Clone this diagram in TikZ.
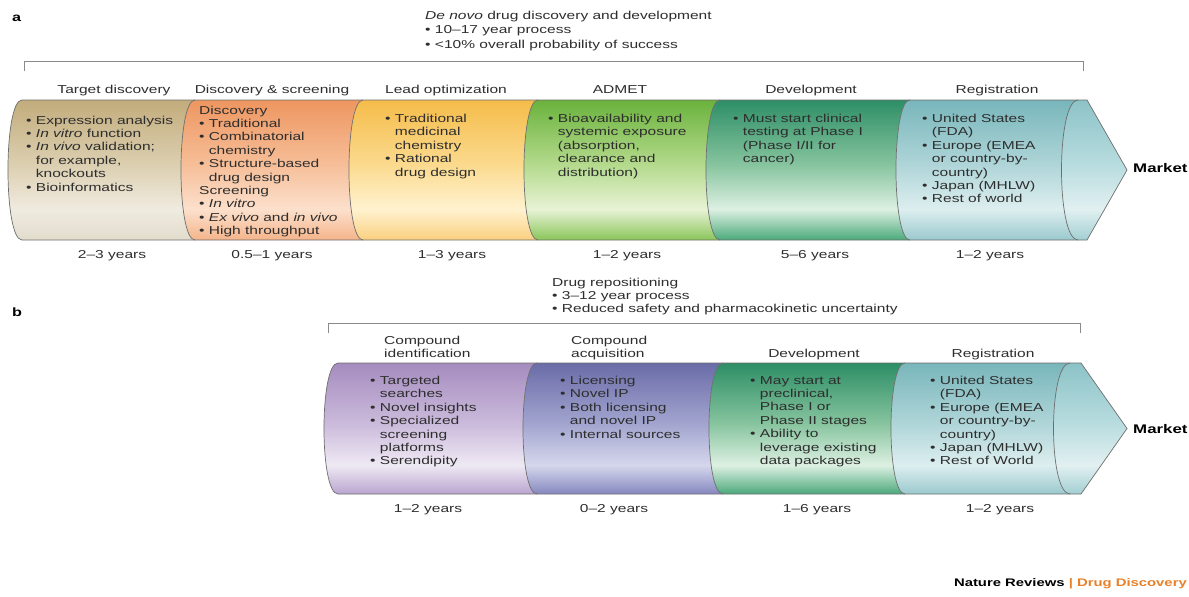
\documentclass[tikz,border=0pt]{standalone}
\usepackage{fontspec}
\setmainfont{Liberation Sans}[FakeStretch=1.35]
\usetikzlibrary{calc}

% text and line colours
\definecolor{ink}{HTML}{2E2E2E}
\definecolor{rim}{HTML}{6E6E6E}
\definecolor{brk}{HTML}{8A8A8A}
\definecolor{npgorange}{HTML}{E8812A}

% cylinder segment colours: top, mid, light band, bottom
\definecolor{a1T}{HTML}{C2AC7C}\definecolor{a1M}{HTML}{DCCFB0}\definecolor{a1L}{HTML}{F0EBE0}\definecolor{a1B}{HTML}{E2DCCD}
\definecolor{a2T}{HTML}{EE9660}\definecolor{a2M}{HTML}{F6BE98}\definecolor{a2L}{HTML}{FCE0CC}\definecolor{a2B}{HTML}{F4B48A}
\definecolor{a3T}{HTML}{F5BC4A}\definecolor{a3M}{HTML}{FBDA8E}\definecolor{a3L}{HTML}{FFF2CF}\definecolor{a3B}{HTML}{FAD080}
\definecolor{a4T}{HTML}{6AB23C}\definecolor{a4M}{HTML}{B4DA8C}\definecolor{a4L}{HTML}{E8F3D6}\definecolor{a4B}{HTML}{8AC55A}
\definecolor{a5T}{HTML}{2D8E66}\definecolor{a5M}{HTML}{86C49E}\definecolor{a5L}{HTML}{DDF0E2}\definecolor{a5B}{HTML}{4BA97B}
\definecolor{a6T}{HTML}{78B6BB}\definecolor{a6M}{HTML}{AFD5D8}\definecolor{a6L}{HTML}{DDEEEF}\definecolor{a6B}{HTML}{9AC9CD}
\definecolor{cpT}{HTML}{8CC3C7}\definecolor{cpM}{HTML}{B8DCDF}\definecolor{cpL}{HTML}{E2F0F1}\definecolor{cpB}{HTML}{A2CFD2}
\definecolor{b1T}{HTML}{A58CBF}\definecolor{b1M}{HTML}{CBBADB}\definecolor{b1L}{HTML}{EFE9F4}\definecolor{b1B}{HTML}{B9A4CF}
\definecolor{b2T}{HTML}{6A6CA8}\definecolor{b2M}{HTML}{A2A4CF}\definecolor{b2L}{HTML}{D5D7EC}\definecolor{b2B}{HTML}{8587BF}

% vertical cylinder shading: name, top, mid, light, bottom
\newcommand{\cylshading}[5]{%
  \pgfdeclareverticalshading{#1}{100bp}{%
    color(0bp)=(#5); color(25bp)=(#5); color(36bp)=(#4); color(52bp)=(#3); color(75bp)=(#2); color(100bp)=(#2)}}
\cylshading{shA1}{a1T}{a1M}{a1L}{a1B}
\cylshading{shA2}{a2T}{a2M}{a2L}{a2B}
\cylshading{shA3}{a3T}{a3M}{a3L}{a3B}
\cylshading{shA4}{a4T}{a4M}{a4L}{a4B}
\cylshading{shA5}{a5T}{a5M}{a5L}{a5B}
\cylshading{shA6}{a6T}{a6M}{a6L}{a6B}
\cylshading{shCap}{cpT}{cpM}{cpL}{cpB}
\cylshading{shB1}{b1T}{b1M}{b1L}{b1B}
\cylshading{shB2}{b2T}{b2M}{b2L}{b2B}

\newcommand{\pbul}{\textbullet\ }
\newcommand{\pind}{\phantom{\textbullet\ }}
\def\bk{18.7}
\def\bkc{22}

% one piece of the pipe: left x, right x, top y, bottom y, shading
\newcommand{\cylseg}[5]{%
  \shade[shading=#5] (#1,#3) .. controls (#1-\bk,#3) and (#1-\bk,#4) .. (#1,#4)
    -- (#2,#4) .. controls (#2-\bk,#4) and (#2-\bk,#3) .. (#2,#3) -- cycle;}

\begin{document}
\begin{tikzpicture}[x=1pt,y=-1pt,
  rimline/.style={draw=rim, line width=0.7pt},
  bracketline/.style={draw=brk, line width=0.8pt},
  bodytxt/.style={anchor=north west, align=left, inner sep=0pt, text=ink, font=\fontsize{11.5}{13.4}\selectfont},
  headtxt/.style={inner sep=0pt, text=ink, align=center, font=\fontsize{11.5}{13.4}\selectfont},
  yeartxt/.style={anchor=base, inner sep=0pt, text=ink, font=\fontsize{11.5}{13.4}\selectfont},
  paneltag/.style={anchor=base west, inner sep=0pt, font=\bfseries\fontsize{12}{14}\selectfont},
  markettxt/.style={anchor=base west, inner sep=0pt, font=\bfseries\fontsize{12.5}{14}\selectfont}
]
\useasboundingbox[fill=white] (0,0) rectangle (1189,597);

% ---------------- panel a: de novo pipeline ----------------
\node[paneltag] (tagA) at (12,21) {a};
\node[bodytxt, font=\fontsize{11.5}{14.5}\selectfont] (introA) at (425,10.5)
  {\textit{De novo} drug discovery and development\\
   \pbul 10–17 year process\\
   \pbul <10\% overall probability of success};
\draw[bracketline] (24,71) -- (24,61) -- (1083,61) -- (1083,71);

\cylseg{22}{195}{100}{240}{shA1}
\cylseg{195}{363}{100}{240}{shA2}
\cylseg{363}{538}{100}{240}{shA3}
\cylseg{538}{720}{100}{240}{shA4}
\cylseg{720}{910}{100}{240}{shA5}
\cylseg{910}{1078}{100}{240}{shA6}
\shade[shading=shCap] (1078,100) .. controls (1078-\bkc,100) and (1078-\bkc,240) .. (1078,240)
  -- (1087,240) -- (1127,170) -- (1087,100) -- cycle;
\draw[rimline] (22,100) -- (1087,100) -- (1127,170) -- (1087,240) -- (22,240);
\foreach \bx in {22,195,363,538,720,910}
  \draw[rimline] (\bx,100) .. controls (\bx-\bk,100) and (\bx-\bk,240) .. (\bx,240);
\draw[rimline] (1078,100) .. controls (1078-\bkc,100) and (1078-\bkc,240) .. (1078,240);

\node[headtxt, anchor=base] (hdA1) at (114,93) {Target discovery};
\node[headtxt, anchor=base] (hdA2) at (272,93) {Discovery \& screening};
\node[headtxt, anchor=base] (hdA3) at (446,93) {Lead optimization};
\node[headtxt, anchor=base] (hdA4) at (620,93) {ADMET};
\node[headtxt, anchor=base] (hdA5) at (811,93) {Development};
\node[headtxt, anchor=base] (hdA6) at (997,93) {Registration};

\node[bodytxt] (txA1) at (26,115.5)
  {\pbul Expression analysis\\
   \pbul \textit{In vitro} function\\
   \pbul \textit{In vivo} validation;\\
   \pind for example,\\
   \pind knockouts\\
   \pbul Bioinformatics};
\node[bodytxt] (txA2) at (199,105.5)
  {Discovery\\
   \pbul Traditional\\
   \pbul Combinatorial\\
   \pind chemistry\\
   \pbul Structure-based\\
   \pind drug design\\
   Screening\\
   \pbul \textit{In vitro}\\
   \pbul \textit{Ex vivo} and \textit{in vivo}\\
   \pbul High throughput};
\node[bodytxt] (txA3) at (385,114)
  {\pbul Traditional\\
   \pind medicinal\\
   \pind chemistry\\
   \pbul Rational\\
   \pind drug design};
\node[bodytxt] (txA4) at (548,114)
  {\pbul Bioavailability and\\
   \pind systemic exposure\\
   \pind (absorption,\\
   \pind clearance and\\
   \pind distribution)};
\node[bodytxt] (txA5) at (733,114)
  {\pbul Must start clinical\\
   \pind testing at Phase I\\
   \pind (Phase I/II for\\
   \pind cancer)};
\node[bodytxt] (txA6) at (922,114)
  {\pbul United States\\
   \pind (FDA)\\
   \pbul Europe (EMEA\\
   \pind or country-by-\\
   \pind country)\\
   \pbul Japan (MHLW)\\
   \pbul Rest of world};

\node[markettxt] (mkA) at (1133,172.5) {Market};

\node[yeartxt] (yrA1) at (112,258) {2–3 years};
\node[yeartxt] (yrA2) at (272,258) {0.5–1 years};
\node[yeartxt] (yrA3) at (452,258) {1–3 years};
\node[yeartxt] (yrA4) at (627,258) {1–2 years};
\node[yeartxt] (yrA5) at (815,258) {5–6 years};
\node[yeartxt] (yrA6) at (990,258) {1–2 years};

% ---------------- panel b: repositioning pipeline ----------------
\node[paneltag] (tagB) at (12,316) {b};
\node[bodytxt] (introB) at (552,277.5)
  {Drug repositioning\\
   \pbul 3–12 year process\\
   \pbul Reduced safety and pharmacokinetic uncertainty};
\draw[bracketline] (328,333) -- (328,323) -- (1080,323) -- (1080,333);

\cylseg{338}{537}{363}{494}{shB1}
\cylseg{537}{723}{363}{494}{shB2}
\cylseg{723}{905}{363}{494}{shA5}
\cylseg{905}{1070}{363}{494}{shA6}
\shade[shading=shCap] (1070,363) .. controls (1070-\bkc,363) and (1070-\bkc,494) .. (1070,494)
  -- (1081,494) -- (1127,428.5) -- (1081,363) -- cycle;
\draw[rimline] (338,363) -- (1081,363) -- (1127,428.5) -- (1081,494) -- (338,494);
\foreach \bx in {338,537,723,905}
  \draw[rimline] (\bx,363) .. controls (\bx-\bk,363) and (\bx-\bk,494) .. (\bx,494);
\draw[rimline] (1070,363) .. controls (1070-\bkc,363) and (1070-\bkc,494) .. (1070,494);

\node[headtxt, align=left, anchor=north west] (hdB1) at (384,335.5) {Compound\\identification};
\node[headtxt, align=left, anchor=north west] (hdB2) at (571,335.5) {Compound\\acquisition};
\node[headtxt, anchor=base] (hdB3) at (814,357) {Development};
\node[headtxt, anchor=base] (hdB4) at (993,357) {Registration};

\node[bodytxt] (txB1) at (370,376)
  {\pbul Targeted\\
   \pind searches\\
   \pbul Novel insights\\
   \pbul Specialized\\
   \pind screening\\
   \pind platforms\\
   \pbul Serendipity};
\node[bodytxt] (txB2) at (560,376)
  {\pbul Licensing\\
   \pbul Novel IP\\
   \pbul Both licensing\\
   \pind and novel IP\\
   \pbul Internal sources};
\node[bodytxt] (txB3) at (750,376)
  {\pbul May start at\\
   \pind preclinical,\\
   \pind Phase I or\\
   \pind Phase II stages\\
   \pbul Ability to\\
   \pind leverage existing\\
   \pind data packages};
\node[bodytxt] (txB4) at (930,376)
  {\pbul United States\\
   \pind (FDA)\\
   \pbul Europe (EMEA\\
   \pind or country-by-\\
   \pind country)\\
   \pbul Japan (MHLW)\\
   \pbul Rest of World};

\node[markettxt] (mkB) at (1133,433) {Market};

\node[yeartxt] (yrB1) at (428,512) {1–2 years};
\node[yeartxt] (yrB2) at (614,512) {0–2 years};
\node[yeartxt] (yrB3) at (817,512) {1–6 years};
\node[yeartxt] (yrB4) at (1000,512) {1–2 years};

% journal credit
\node[anchor=base east, inner sep=0pt, font=\bfseries\fontsize{11}{13}\selectfont] (credit) at (1187,586)
  {Nature Reviews \textcolor{npgorange}{|} \textcolor{npgorange}{Drug Discovery}};
\end{tikzpicture}
\end{document}
